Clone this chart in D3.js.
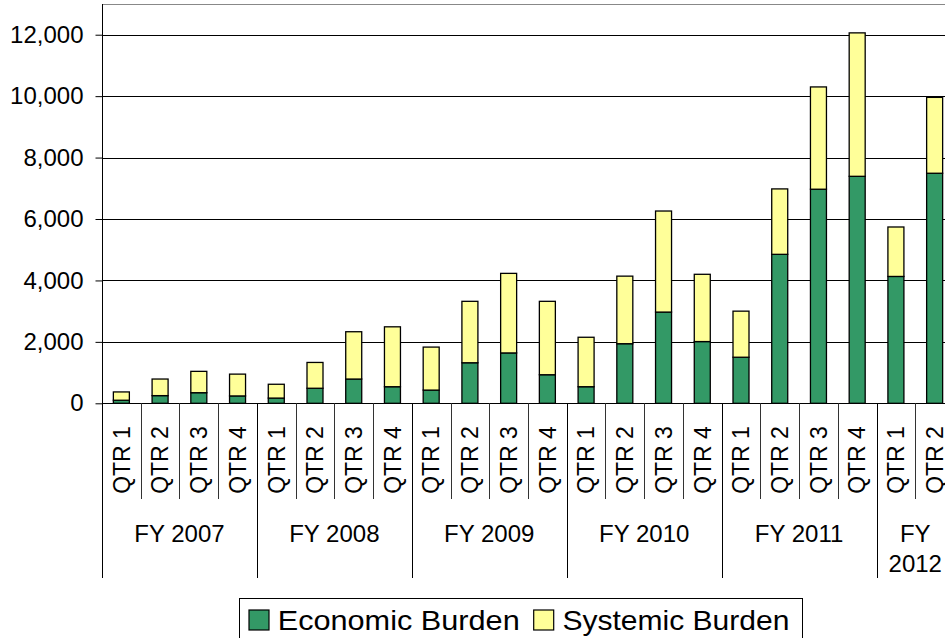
<!DOCTYPE html>
<html>
<head>
<meta charset="utf-8">
<script src="https://cdn.jsdelivr.net/npm/d3@7"></script>
<style>
  html, body { margin: 0; padding: 0; background: #fff; overflow: hidden; }
  svg { display: block; font-family: "Liberation Sans", Arial, sans-serif; }
</style>
</head>
<body>
<svg id="chart" width="945" height="638"></svg>
<script>
const years = ["FY 2007", "FY 2008", "FY 2009", "FY 2010", "FY 2011", "FY 2012"];
const quartersPerYear = [4, 4, 4, 4, 4, 2];
const quarterNames = ["QTR 1", "QTR 2", "QTR 3", "QTR 4"];
const economic = [100, 250, 345, 240, 170, 490, 790, 540, 430, 1320, 1640, 930, 540, 1940, 2970, 2010, 1500, 4850, 6970, 7390, 4130, 7490];
const systemic = [270, 540, 695, 710, 450, 840, 1540, 1950, 1400, 2000, 2590, 2390, 1610, 2200, 3290, 2190, 1500, 2130, 3330, 4670, 1610, 2470];
const yTicks = [0, 2000, 4000, 6000, 8000, 10000, 12000];
const seriesNames = ["Economic Burden", "Systemic Burden"];
const seriesColors = ["#339966", "#FFFF99"];

(function () {
// build category list
const cats = [];
years.forEach((yr, yi) => {
  for (let q = 0; q < quartersPerYear[yi]; q++) {
    cats.push({ id: yr + "|" + quarterNames[q], year: yr, yi: yi, quarter: quarterNames[q], q: q });
  }
});
const rows = cats.map((c, i) => ({ id: c.id, econ: economic[i], sys: systemic[i] }));

const svg = d3.select("#chart");
const pLeft = 102, pRight = 954, pTop = 4, pBottom = 403.3;

const x = d3.scaleBand().domain(cats.map(c => c.id)).range([pLeft, pRight]).paddingInner(0).paddingOuter(0);
const y = d3.scaleLinear().domain([0, 13000]).range([pBottom, pTop]);
const step = x.bandwidth();
const barW = 16;

// gridlines
const grid = svg.append("g");
grid.selectAll("line").data(yTicks.filter(t => t > 0).concat([13000])).join("line")
  .attr("x1", pLeft).attr("x2", 945)
  .attr("y1", d => Math.round(y(d)) + 0.5).attr("y2", d => Math.round(y(d)) + 0.5)
  .attr("stroke", d => d === 13000 ? "#888" : "#000").attr("stroke-width", 1);

// stacked bars
const stack = d3.stack().keys(["econ", "sys"]);
const stacked = stack(rows);
const layers = svg.append("g").selectAll("g").data(stacked).join("g")
  .attr("fill", (d, i) => seriesColors[i]);
layers.selectAll("rect").data(d => d).join("rect")
  .attr("x", d => x(d.data.id) + step / 2 - barW / 2)
  .attr("width", barW)
  .attr("y", d => y(d[1]))
  .attr("height", d => y(d[0]) - y(d[1]))
  .attr("stroke", "#000").attr("stroke-width", 1.3);

// y axis
const yAxis = d3.axisLeft(y).tickValues(yTicks).tickSize(7).tickPadding(12)
  .tickFormat(d3.format(","));
const ya = svg.append("g").attr("transform", `translate(${pLeft + 0.5},0)`).call(yAxis);
ya.select(".domain").remove();
ya.selectAll(".tick line").attr("stroke", "#000");
ya.selectAll(".tick text").attr("font-size", 24).attr("fill", "#000")
  .attr("font-family", "'Liberation Sans', Arial, sans-serif");
svg.append("line").attr("x1", pLeft + 0.5).attr("x2", pLeft + 0.5).attr("y1", pTop).attr("y2", pBottom)
  .attr("stroke", "#000");

// x axis line
svg.append("line").attr("x1", pLeft).attr("x2", 945)
  .attr("y1", Math.round(pBottom) + 0.5).attr("y2", Math.round(pBottom) + 0.5).attr("stroke", "#000");

// quarter separators & year separators
const xa = svg.append("g");
cats.forEach((c, i) => {
  const bx = Math.round(x(c.id)) + 0.5;
  const isYearStart = c.q === 0;
  xa.append("line").attr("x1", bx).attr("x2", bx)
    .attr("y1", pBottom).attr("y2", isYearStart ? 578 : 499)
    .attr("stroke", isYearStart ? "#000" : "#333").attr("stroke-width", 1);
  xa.append("text")
    .attr("transform", `translate(${x(c.id) + step / 2},460) rotate(-90)`)
    .attr("text-anchor", "middle").attr("dy", "0.36em")
    .attr("font-size", 23).attr("fill", "#000")
    .text(c.quarter);
});
// year labels
let idx = 0;
years.forEach((yr, yi) => {
  const n = quartersPerYear[yi];
  const x0 = x(cats[idx].id);
  const groupW = n * step;
  const cx = x0 + groupW / 2;
  const t = xa.append("text").attr("text-anchor", "middle").attr("font-size", 24).attr("fill", "#000");
  if (groupW < 100) {
    const parts = yr.split(" ");
    t.append("tspan").attr("x", cx).attr("y", 541.7).text(parts[0]);
    t.append("tspan").attr("x", cx).attr("y", 571.7).text(parts[1]);
  } else {
    t.attr("x", cx).attr("y", 541.7).text(yr);
  }
  idx += n;
});

// legend
const lg = svg.append("g");
lg.append("rect").attr("x", 239.5).attr("y", 598.5).attr("width", 563).attr("height", 60)
  .attr("fill", "#fff").attr("stroke", "#000").attr("stroke-width", 1);
const legendTextLen = [242, 227];
let lx = 249;
seriesNames.forEach((s, i) => {
  lg.append("rect").attr("x", lx).attr("y", 610).attr("width", 20).attr("height", 20)
    .attr("fill", seriesColors[i]).attr("stroke", "#000").attr("stroke-width", 1.2);
  lg.append("text").attr("x", lx + 28.7).attr("y", 630).attr("font-size", 28.5).attr("fill", "#000")
    .attr("textLength", legendTextLen[i]).attr("lengthAdjust", "spacingAndGlyphs").text(s);
  lx = lx + 28.7 + legendTextLen[i] + 14;
});
})();
</script>
</body>
</html>
